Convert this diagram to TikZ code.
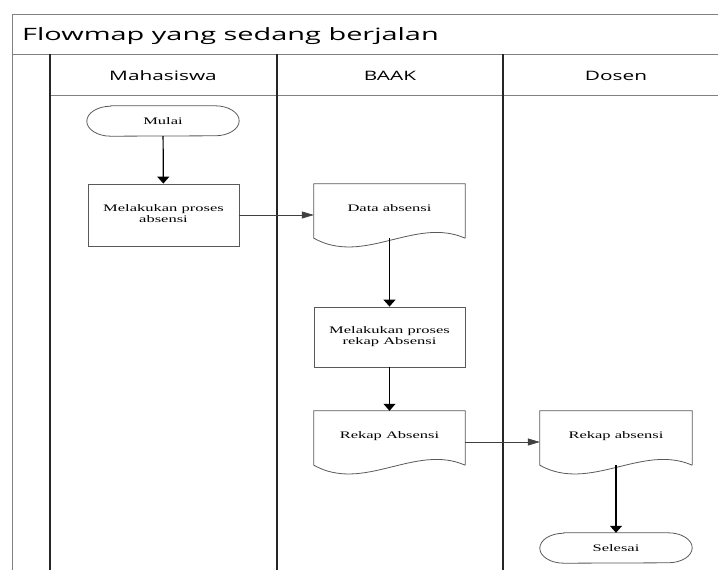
\documentclass[tikz,border=0pt]{standalone}
\usepackage{fontspec}
\usepackage{graphicx}
\setmainfont{Liberation Serif}
\newfontfamily\opensans{Open Sans}
\usetikzlibrary{arrows.meta}
\newcommand{\wideS}[1]{\scalebox{1.65}[1]{\begin{tabular}{@{}c@{}}#1\end{tabular}}}
\newcommand{\wideT}[1]{\scalebox{1.65}[1]{#1}}
\begin{document}
\begin{tikzpicture}[x=1pt,y=-1pt,
  frame/.style={draw=black!50,line width=1pt},
  lane/.style={draw=black!85,line width=1.3pt},
  shapebox/.style={draw=black!65,line width=0.8pt},
  txt/.style={font=\fontsize{10}{11}\selectfont,inner sep=0pt},
  proc/.style={txt,shapebox,minimum width=151pt,minimum height=62pt},
  docnode/.style={txt,minimum width=151pt,minimum height=54pt,text height=7pt,text depth=7pt},
  term/.style={txt,minimum width=152pt,minimum height=30pt},
  flow/.style={-{Triangle[length=7pt,width=12pt]},line width=1.2pt,black},
  hflow/.style={-{Triangle[length=12pt,width=7pt]},line width=0.6pt,black!75},
  hdr/.style={font=\opensans\fontsize{13}{15}\selectfont,anchor=base,inner sep=0pt},
]
\useasboundingbox (0,0) rectangle (718,570);
% frame
\draw[frame] (12,570) -- (12,14) -- (718,14);
\draw[frame] (12,54) -- (718,54);
\draw[frame] (50,95) -- (718,95);
\draw[lane] (50,54) -- (50,570);
\draw[lane] (277,54) -- (277,570);
\draw[lane] (503,54) -- (503,570);
% title and headers
\node[anchor=base west,inner sep=0pt,font=\opensans\fontsize{17}{20}\selectfont] (title) at (22,40) {\scalebox{1.7}[1]{Flowmap yang sedang berjalan}};
\node[hdr] (h1) at (163,80) {\scalebox{1.6}[1]{Mahasiswa}};
\node[hdr] (h2) at (390,80) {\scalebox{1.6}[1]{BAAK}};
\node[hdr] (h3) at (616,80) {\scalebox{1.6}[1]{Dosen}};
% shapes
\node[term] (mulai) at (163,121) {\wideT{Mulai}};
\node[proc] (proc1) at (163.5,215) {\wideS{Melakukan proses\\absensi}};
\node[docnode] (data) at (389.5,211) {\wideT{Data absensi}};
\node[proc,minimum height=60pt] (proc2) at (389.5,337) {\wideS{Melakukan proses\\rekap Absensi}};
\node[docnode] (rekap1) at (389.5,438) {\wideT{Rekap Absensi}};
\node[docnode,minimum width=152pt] (rekap2) at (616,438) {\wideT{Rekap absensi}};
\node[term] (selesai) at (616,548) {\wideT{Selesai}};
% terminator outlines
\foreach \n in {mulai,selesai}{
  \draw[shapebox] ([xshift=24pt]\n.north west) -- ([xshift=-24pt]\n.north east)
    arc[start angle=90,end angle=-90,x radius=24pt,y radius=15pt]
    -- ([xshift=24pt]\n.south west)
    arc[start angle=270,end angle=90,x radius=24pt,y radius=15pt] -- cycle;
}
% document outlines
\foreach \n in {data,rekap1,rekap2}{
  \draw[shapebox] (\n.south east) -- (\n.north east) -- (\n.north west) -- (\n.south west)
    .. controls +(50pt,-28pt) and +(-50pt,22pt) .. (\n.south east);
}
% connectors
\draw[flow] (mulai) -- (proc1);
\draw[hflow] (proc1.east) -- (proc1.east -| data.west);
\draw[flow] (data.south) -- (proc2);
\draw[flow] (proc2) -- (rekap1);
\draw[hflow] ([yshift=-4pt]rekap1.east) -- ([yshift=-4pt]rekap1.east -| rekap2.west);
\draw[flow] (rekap2.south) -- (selesai);
\end{tikzpicture}
\end{document}
